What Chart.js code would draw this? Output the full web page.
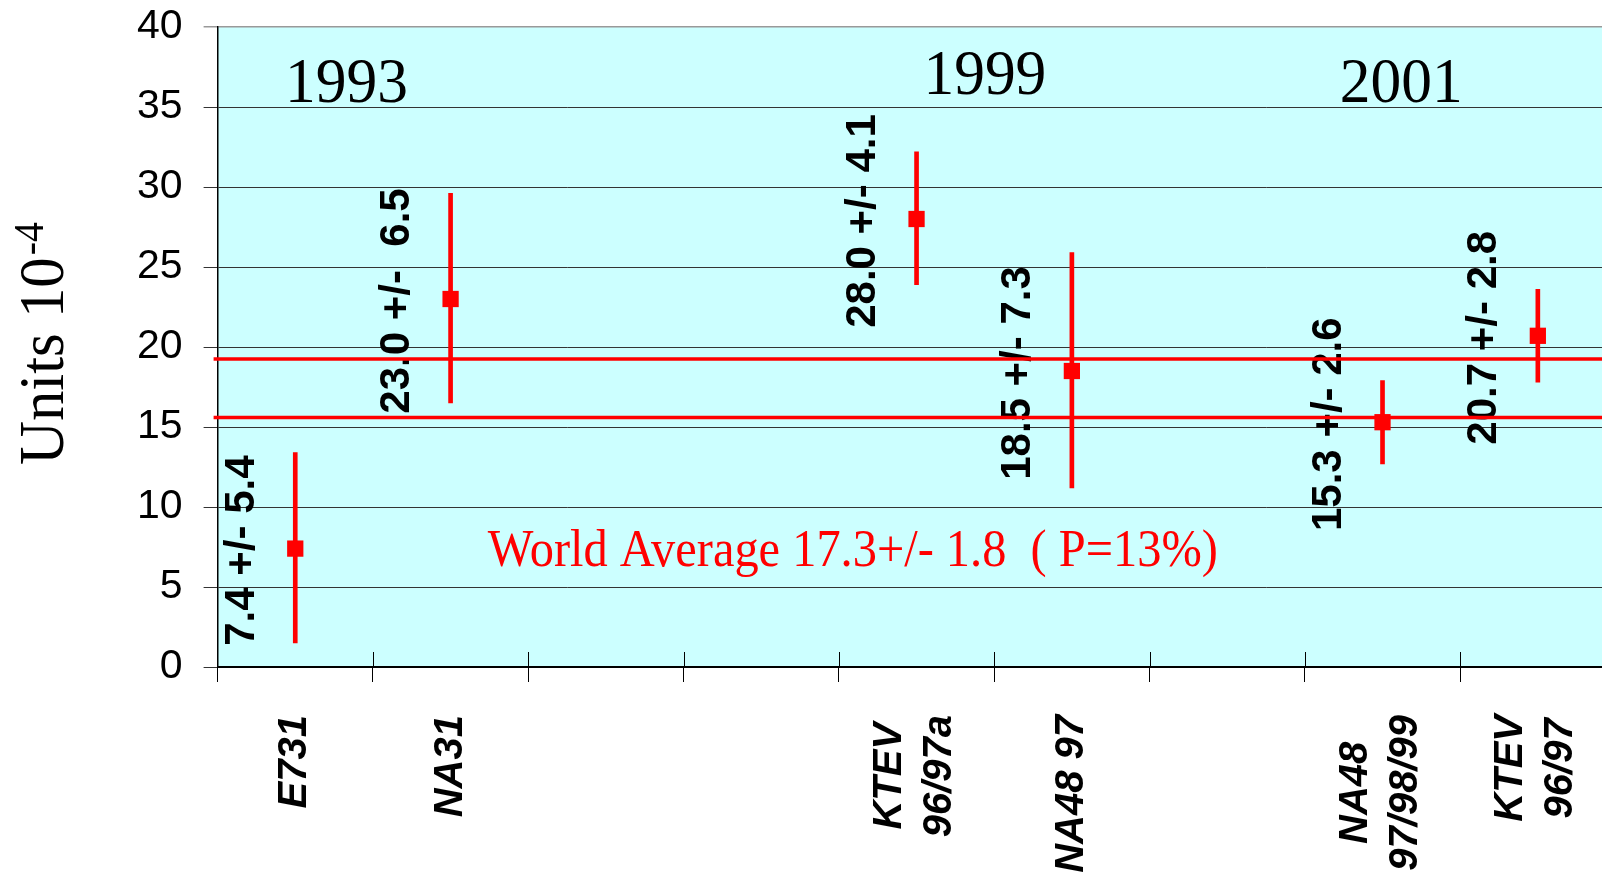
<!DOCTYPE html>
<html>
<head>
<meta charset="utf-8">
<script src="https://cdn.jsdelivr.net/npm/chart.js@4.4.1/dist/chart.umd.min.js"></script>
<style>
  html, body { margin: 0; padding: 0; background: #fff; overflow: hidden; }
  canvas { display: block; }
</style>
</head>
<body>
<canvas id="chartEps" width="1627" height="877" style="width:1627px;height:877px"></canvas>
<script>
// Re(eps'/eps) measurements, units of 1e-4
const categories = [['E731'], ['NA31'], [''], [''], ['KTEV', '96/97a'], ['NA48 97'], [''], ['NA48', '97/98/99'], ['KTEV', '96/97']]
const values = [7.4, 23.0, null, null, 28.0, 18.5, null, 15.3, 20.7]
const barLow = [1.5, 16.5, null, null, 23.9, 11.2, null, 12.7, 17.8]
const barHigh = [13.4, 29.6, null, null, 32.2, 25.9, null, 17.9, 23.6]
const valueTexts = ['7.4 +/- 5.4', '23.0 +/-  6.5', '', '', '28.0 +/- 4.1', '18.5 +/- 7.3', '', '15.3 +/- 2.6', '20.7 +/- 2.8']
const yTicks = [0, 5, 10, 15, 20, 25, 30, 35, 40]
const worldBand = [15.6, 19.25]
const worldText = 'World Average 17.3+/- 1.8  ( P=13%)'
const years = ['1993', '1999', '2001']

const sans = '"Liberation Sans", Arial, sans-serif'
const serif = '"Liberation Serif", "Times New Roman", serif'
const red = '#FF0000'

// where the annotations sit, in axis units (x = category index)
const yearPos = [[0.33, 35.33], [4.44, 35.81], [7.12, 35.33]]
const worldPos = [3.59, 6.31]

function squeezed(ctx, text, sx) {
  ctx.save()
  ctx.scale(sx, 1)
  ctx.fillText(text, 0, 0)
  ctx.restore()
}

function noPadding(scale) {
  scale.paddingTop = 0
  scale.paddingBottom = 0
  scale.paddingLeft = 0
  scale.paddingRight = 0
}

const decor = {
  id: 'decor',
  beforeDraw(chart) {
    const {ctx, chartArea: a} = chart
    ctx.save()
    ctx.fillStyle = '#CCFFFF'
    ctx.fillRect(a.left, a.top, chart.width - a.left, a.bottom - a.top)
    ctx.restore()
  },
  afterDatasetsDraw(chart) {
    const {ctx, chartArea: a, scales: {x, y}} = chart
    ctx.save()

    // tick marks poking up into the plot
    ctx.strokeStyle = '#000'
    ctx.lineWidth = 1
    for (let i = 1; i <= categories.length; i++) {
      const px = Math.round(x.getPixelForValue(i - 0.5)) + 0.5
      ctx.beginPath()
      ctx.moveTo(px, a.bottom)
      ctx.lineTo(px, a.bottom - 15)
      ctx.stroke()
    }

    // value +/- error texts beside each point
    const meta = chart.getDatasetMeta(0)
    ctx.font = 'bold 42px ' + sans
    ctx.fillStyle = '#000'
    ctx.textAlign = 'center'
    ctx.textBaseline = 'middle'
    meta.data.forEach((pt, i) => {
      if (!valueTexts[i]) return
      ctx.save()
      ctx.translate(pt.x - 53, pt.y + 2)
      ctx.rotate(-Math.PI / 2)
      ctx.fillText(valueTexts[i], 0, 0)
      ctx.restore()
    })

    // world average band
    ctx.strokeStyle = red
    ctx.lineWidth = 3.5
    worldBand.forEach(v => {
      const py = y.getPixelForValue(v)
      ctx.beginPath()
      ctx.moveTo(a.left - 4, py)
      ctx.lineTo(chart.width, py)
      ctx.stroke()
    })

    // years
    ctx.font = '64px ' + serif
    ctx.textAlign = 'center'
    ctx.textBaseline = 'alphabetic'
    ctx.fillStyle = '#000'
    years.forEach((t, i) => {
      ctx.save()
      ctx.translate(x.getPixelForValue(yearPos[i][0]), y.getPixelForValue(yearPos[i][1]))
      squeezed(ctx, t, 0.96)
      ctx.restore()
    })

    // world average text
    ctx.font = '52px ' + serif
    ctx.fillStyle = red
    ctx.save()
    ctx.translate(x.getPixelForValue(worldPos[0]), y.getPixelForValue(worldPos[1]))
    squeezed(ctx, worldText, 730 / ctx.measureText(worldText).width)
    ctx.restore()

    // category labels, rotated, multi-line blocks centred
    ctx.font = 'bold italic 40px ' + sans
    ctx.fillStyle = '#000'
    ctx.textAlign = 'center'
    ctx.textBaseline = 'middle'
    categories.forEach((lines, i) => {
      const maxW = Math.max(...lines.map(t => ctx.measureText(t).width))
      if (!maxW) return
      const cx = x.getPixelForValue(i) - (lines.length > 1 ? 2 : 0)
      lines.forEach((t, j) => {
        ctx.save()
        ctx.translate(cx + (j - (lines.length - 1) / 2) * 50, a.bottom + 48 + maxW / 2)
        ctx.rotate(-Math.PI / 2)
        ctx.fillText(t, 0, 0)
        ctx.restore()
      })
    })

    // y title with superscript
    ctx.save()
    ctx.translate(63, 465)
    ctx.rotate(-Math.PI / 2)
    ctx.scale(0.95, 1)
    ctx.textAlign = 'left'
    ctx.textBaseline = 'alphabetic'
    ctx.font = '64px ' + serif
    const base = 'Units 10'
    ctx.fillText(base, 0, 0)
    const bw = ctx.measureText(base).width
    ctx.font = '42px ' + serif
    ctx.fillText('-4', bw + 2, -20)
    ctx.restore()

    ctx.restore()
  }
}

new Chart(document.getElementById('chartEps'), {
  type: 'bar',
  data: {
    labels: categories,
    datasets: [{
      type: 'line',
      data: values,
      showLine: false,
      pointStyle: 'rect',
      pointRadius: 11.5,
      pointHoverRadius: 11.5,
      pointBackgroundColor: red,
      pointBorderWidth: 0,
      order: 1
    }, {
      type: 'bar',
      data: barLow.map((l, i) => l == null ? null : [l, barHigh[i]]),
      backgroundColor: red,
      borderWidth: 0,
      barThickness: 4,
      order: 2
    }]
  },
  options: {
    responsive: false,
    animation: false,
    layout: { padding: { top: 27, left: 0, right: 0, bottom: 0 } },
    plugins: { legend: { display: false }, tooltip: { enabled: false } },
    scales: {
      x: {
        type: 'category',
        offset: true,
        grid: { offset: true, drawOnChartArea: false, color: '#000', tickLength: 15 },
        border: { color: '#000', width: 2 },
        ticks: { display: false },
        afterFit(scale) {
          scale.height = 210
          noPadding(scale)
        }
      },
      y: {
        min: 0,
        max: 40,
        afterBuildTicks(scale) { scale.ticks = yTicks.map(v => ({ value: v })) },
        ticks: { color: '#000', padding: 21, font: { family: sans, size: 41 } },
        grid: {
          color: c => c.tick && c.tick.value === 40 ? '#999' : '#333',
          lineWidth: c => c.tick && c.tick.value === 40 ? 1.5 : 1,
          tickLength: 14
        },
        border: { color: '#000', width: 1.5 },
        afterFit(scale) {
          scale.width = 217.6
          noPadding(scale)
        }
      }
    }
  },
  plugins: [decor]
})
</script>
</body>
</html>
